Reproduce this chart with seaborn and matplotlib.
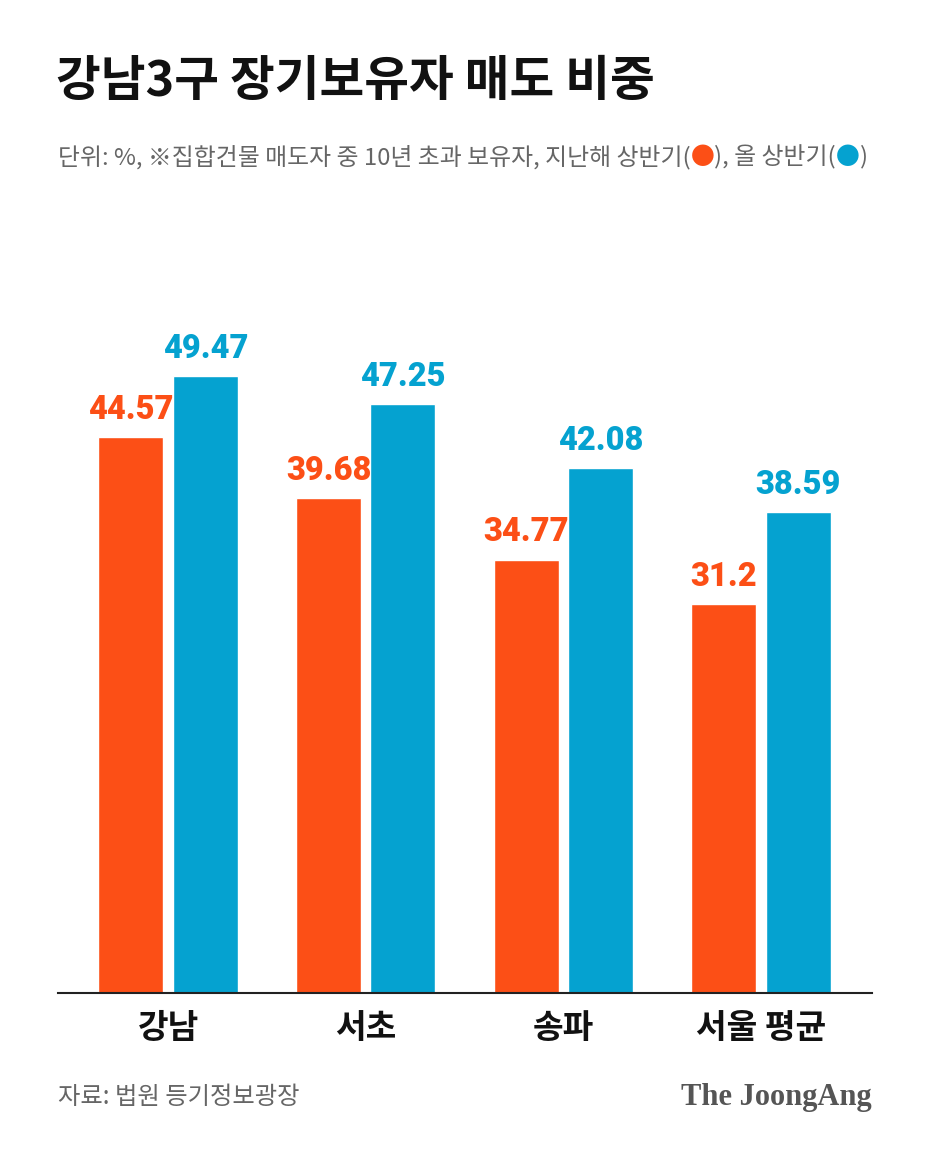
import pandas as pd
import seaborn as sns
import matplotlib.pyplot as plt

# data
regions = ["강남", "서초", "송파", "서울 평균"]
last_year_h1 = [44.57, 39.68, 34.77, 31.2]
this_year_h1 = [49.47, 47.25, 42.08, 38.59]
period_names = ["지난해 상반기", "올 상반기"]

ORANGE = "#FC4F16"
BLUE = "#05A2D0"
GRAY = "#666666"

df = pd.DataFrame({
    "region": regions * 2,
    "period": [period_names[0]] * 4 + [period_names[1]] * 4,
    "value": last_year_h1 + this_year_h1,
})

sns.set_theme(style="white")
plt.rcParams["font.family"] = ["Noto Sans CJK KR", "DejaVu Sans"]

fig = plt.figure(figsize=(9.28, 11.52), dpi=100)
ax = fig.add_axes([58 / 928, 1 - 993 / 1152, 814 / 928, 713 / 1152])

sns.barplot(data=df, x="region", y="value", hue="period",
            palette=[ORANGE, BLUE], width=0.754, gap=0.127,
            saturation=1, legend=False, ax=ax)

ax.set_xlim(-0.557, 3.562)
ax.set_ylim(0, 57.2)

# value labels above each bar
for cont, col in zip(ax.containers, [ORANGE, BLUE]):
    labels = [f"{v:g}" for v in cont.datavalues]
    ax.bar_label(cont, labels=labels, padding=8, color=col,
                 fontsize=23.5, fontweight="black", family=["Roboto", "DejaVu Sans"])

ax.set_xlabel("")
ax.set_ylabel("")
ax.set_yticks([])
for s in ["top", "left", "right"]:
    ax.spines[s].set_visible(False)
ax.spines["bottom"].set_color("#222222")
ax.spines["bottom"].set_linewidth(1.5)
ax.tick_params(axis="x", length=0, pad=14)
for lbl in ax.get_xticklabels():
    lbl.set_fontsize(24)
    lbl.set_fontweight("bold")
    lbl.set_color("#111111")

# title
fig.text(56 / 928, 1 - 82 / 1152, "강남3구 장기보유자 매도 비중",
         fontsize=35, fontweight="black", color="#111111", va="center")

# subtitle with coloured dots
pieces = [
    ("단위: %, ※집합건물 매도자 중 10년 초과 보유자, 지난해 상반기(", GRAY),
    ("●", ORANGE),
    ("), 올 상반기(", GRAY),
    ("●", BLUE),
    (")", GRAY),
]
fig.canvas.draw()
renderer = fig.canvas.get_renderer()
x = 58 / 928
y_sub = 1 - 157 / 1152
for txt, col in pieces:
    t = fig.text(x, y_sub, txt, fontsize=17.2, color=col, va="center")
    bb = t.get_window_extent(renderer=renderer)
    x += bb.width / fig.bbox.width

# footer
fig.text(58 / 928, 1 - 1097 / 1152, "자료: 법원 등기정보광장",
         fontsize=17.5, color=GRAY, va="center")
fig.text(872 / 928, 1 - 1097 / 1152, "The JoongAng",
         fontsize=22, fontweight="bold", color="#555555", va="center", ha="right",
         family=["Liberation Serif", "DejaVu Serif"])

fig.savefig("out.png", dpi=100, facecolor="white")
